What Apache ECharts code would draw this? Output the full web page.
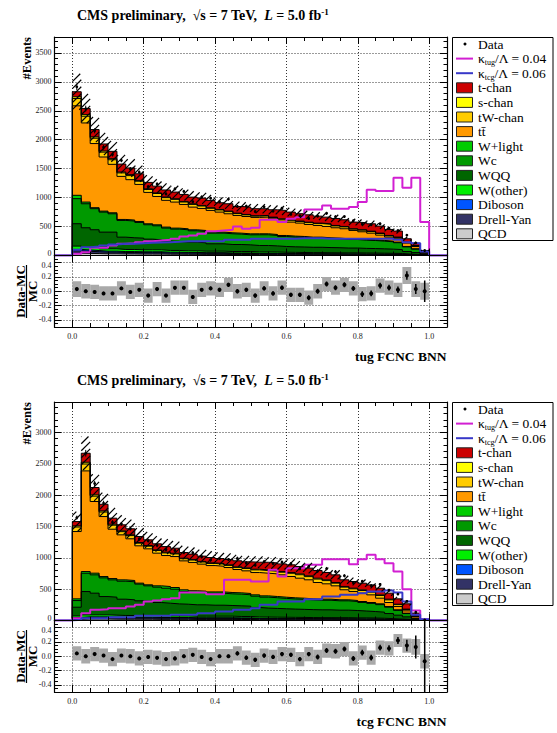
<!DOCTYPE html>
<html>
<head>
<meta charset="utf-8">
<script src="https://cdn.jsdelivr.net/npm/echarts@6.0.0/dist/echarts.min.js"></script>
<style>
  html, body { margin: 0; padding: 0; background: #fff; }
  #chart { width: 557px; height: 733px; }
</style>
</head>
<body>
<div id="chart"></div>
<script>
// 40 bins of width 0.025 on [0, 1]
var binWidth = 0.025;

// ---- top plot: tug FCNC BNN ----
var tchanA = [87,104,127,121,127,138,115,115,110,115,121,115,121,115,127,127,115,127,115,127,121,115,127,144,133,127,127,121,115,121,115,115,121,127,121,104,104,58,40,29];
var schanA = [30,28,23,20,19,15,17,14,12,12,11,11,10,11,10,9,9,9,8,7,6,6,6,8,8,7,8,8,9,8,8,6,7,7,7,6,6,3,3,2];
var twA    = [126,116,92,84,79,60,70,55,51,51,47,47,42,47,42,37,37,37,32,28,23,23,23,32,32,28,32,32,37,32,32,23,28,28,28,23,23,14,14,10];
var ttA    = [1546,1367,1108,935,837,744,698,640,542,490,462,450,421,392,381,375,346,329,306,300,283,289,271,248,242,231,219,202,196,179,173,144,133,115,92,69,58,58,40,17];
var wlA    = [58,29,17,17,17,17,17,17,17,17,17,17,17,17,17,17,17,17,17,17,17,17,17,17,17,15,15,15,14,14,13,13,12,12,12,11,10,7,5,2];
var wcA    = [433,415,364,346,317,289,289,271,248,242,225,213,213,196,196,185,185,185,179,173,185,185,180,173,168,167,160,160,155,152,147,147,142,139,133,127,119,80,59,15];
var wqqA   = [387,335,312,289,289,213,202,202,185,173,162,156,150,150,144,127,127,121,121,115,110,110,106,100,96,95,92,92,89,87,84,84,80,78,75,72,67,45,33,8];
var wothA  = [57,50,47,40,40,36,36,34,34,34,30,30,28,28,26,26,26,24,24,24,22,22,21,20,19,18,18,18,17,16,16,16,15,15,14,13,12,8,6,1];
var dibA   = [24,22,20,17,17,16,16,15,15,15,13,13,12,12,11,11,11,10,10,10,9,9,9,8,8,8,7,7,7,7,7,7,6,6,6,6,5,4,3,1];
var dyA    = [41,36,33,29,29,26,26,25,25,25,22,22,21,21,19,19,19,18,18,18,16,16,15,14,14,13,13,13,12,12,11,11,11,11,10,10,9,6,5,1];
var qcdA   = [40,36,33,29,29,26,26,24,24,24,22,22,20,20,19,19,19,17,17,17,16,16,15,14,13,13,12,12,12,12,11,11,11,10,10,9,9,6,4,1];
var tugA   = [29,58,133,133,173,202,213,231,248,260,271,288,329,346,375,421,433,444,502,461,479,617,617,577,634,663,796,796,865,808,808,837,923,1137,1114,1114,1344,1171,1344,577];
var tcgA   = [98,144,156,173,190,202,202,213,219,225,231,237,248,248,248,248,248,271,271,271,288,288,288,288,288,300,300,300,288,288,288,288,288,288,288,288,271,231,213,69];
var ratioA = [0.03,0.00,-0.01,-0.03,-0.03,0.04,-0.01,0.02,-0.06,0.03,-0.06,0.05,0.05,-0.08,0.02,0.04,0.02,0.09,0.00,0.02,-0.06,0.04,-0.03,0.05,-0.05,-0.05,-0.09,0.00,0.10,0.05,0.09,0.04,-0.04,-0.03,0.08,0.05,0.02,0.22,0.03,0.00];
var uncA   = [0.11,0.10,0.10,0.10,0.10,0.10,0.10,0.10,0.10,0.10,0.10,0.10,0.10,0.10,0.10,0.10,0.10,0.10,0.10,0.10,0.10,0.10,0.10,0.10,0.10,0.10,0.10,0.10,0.10,0.10,0.10,0.10,0.10,0.10,0.10,0.10,0.10,0.12,0.11,0.12];
var errA   = [0.02,0.02,0.02,0.02,0.02,0.02,0.02,0.02,0.025,0.025,0.025,0.025,0.025,0.025,0.025,0.025,0.03,0.03,0.03,0.03,0.03,0.03,0.03,0.03,0.03,0.03,0.035,0.035,0.035,0.035,0.035,0.035,0.04,0.04,0.04,0.04,0.045,0.06,0.07,0.15];

// ---- bottom plot: tcg FCNC BNN ----
var tchanB = [69,144,117,106,96,96,96,96,90,96,90,80,90,85,85,85,80,85,96,96,112,122,122,122,122,117,122,122,117,122,106,106,106,106,106,96,85,85,43,4];
var schanB = [18,28,21,18,16,13,13,11,11,11,11,11,9,10,9,9,9,9,9,10,11,11,11,11,13,14,13,14,13,11,11,11,11,11,11,11,7,5,2,0];
var twB    = [72,110,85,72,64,51,51,42,42,42,42,42,34,38,34,34,34,34,34,38,42,42,42,42,51,55,51,55,51,42,42,42,42,42,42,42,30,22,9,1];
var ttB    = [1074,1605,1143,957,787,718,665,595,574,521,494,494,462,452,431,420,409,399,372,361,356,361,361,356,340,319,303,266,245,223,160,144,133,122,90,64,53,37,27,2];
var wlB    = [27,27,27,21,21,21,21,16,16,21,27,27,27,27,21,21,21,21,21,21,21,20,20,19,18,18,17,17,17,16,16,16,15,14,13,11,8,6,2,0];
var wcB    = [106,292,292,298,276,287,287,266,250,245,239,234,202,197,197,191,191,186,186,181,180,175,170,166,162,160,156,153,153,149,149,144,137,130,120,101,77,53,17,2];
var wqqB   = [138,372,346,292,287,260,250,234,223,213,202,191,186,181,181,175,175,170,170,165,150,143,140,135,132,129,126,124,124,120,120,116,110,104,97,81,62,42,13,1];
var wothB  = [26,32,32,32,30,28,28,28,28,26,26,26,26,25,25,25,25,25,22,22,20,19,19,18,17,18,16,16,16,16,16,15,15,13,13,10,8,6,2,1];
var dibB   = [11,13,13,13,13,12,12,12,12,11,11,11,11,10,10,10,10,10,10,10,9,8,8,8,8,7,7,7,7,7,7,6,6,6,5,5,3,2,1,0];
var dyB    = [19,22,22,22,21,20,20,20,20,19,19,19,19,17,17,17,17,17,16,16,15,14,13,13,13,12,12,12,12,11,11,11,10,10,9,8,6,4,1,0];
var qcdB   = [18,23,23,23,21,20,20,20,20,18,18,18,18,17,17,17,17,17,16,16,14,14,13,13,12,12,12,11,11,11,11,11,10,10,9,7,6,4,1,0];
var tugB   = [37,117,170,181,197,197,223,250,303,319,340,356,447,447,447,420,420,649,649,649,622,622,808,702,835,835,888,888,978,978,978,899,978,1047,978,914,781,500,159,21];
var tcgB   = [11,37,37,37,53,53,53,74,74,74,74,90,90,90,117,117,144,144,170,170,197,250,250,303,303,303,340,340,383,383,409,409,436,462,462,478,447,303,90,21];
var ratioB = [0.04,0.00,0.03,0.01,-0.04,0.01,0.00,-0.03,-0.01,-0.02,-0.04,-0.03,0.00,0.02,-0.01,-0.04,0.00,0.00,0.04,-0.02,-0.05,0.01,-0.01,0.03,0.02,-0.04,0.03,-0.01,0.08,0.07,0.10,-0.03,0.05,-0.02,0.12,0.11,0.22,0.15,0.13,-0.07];
var uncB   = [0.10,0.10,0.10,0.10,0.10,0.10,0.10,0.10,0.10,0.10,0.10,0.10,0.10,0.10,0.10,0.10,0.10,0.10,0.10,0.10,0.10,0.10,0.10,0.10,0.10,0.10,0.10,0.10,0.10,0.10,0.10,0.10,0.10,0.10,0.10,0.10,0.09,0.10,0.11,0.10];
var errB   = [0.02,0.02,0.02,0.02,0.02,0.02,0.02,0.02,0.025,0.025,0.025,0.025,0.025,0.025,0.025,0.025,0.025,0.025,0.03,0.03,0.03,0.03,0.03,0.03,0.03,0.03,0.03,0.035,0.035,0.035,0.035,0.035,0.04,0.04,0.04,0.045,0.05,0.08,0.16,0.6];

// stack order, bottom to top
var compNames  = ['QCD','Drell-Yan','Diboson','W(other)','WQQ','Wc','W+light','t\u0074\u0304','tW-chan','s-chan','t-chan'];
var compColors = ['#cccccc','#333366','#0055ff','#00ee00','#006600','#009900','#00cc00','#ff9900','#ffcc00','#ffff00','#cc0000'];
var tugColor = '#d21fd2', tcgColor = '#3838c8';

var FONT = "'Liberation Serif','DejaVu Serif',serif";

var panels = [
  {comps:[qcdA,dyA,dibA,wothA,wqqA,wcA,wlA,ttA,twA,schanA,tchanA], tug:tugA, tcg:tcgA,
   ratio:ratioA, unc:uncA, err:errA, ymax:3775, xtitle:'tug FCNC BNN', dy:0},
  {comps:[qcdB,dyB,dibB,wothB,wqqB,wcB,wlB,ttB,twB,schanB,tchanB], tug:tugB, tcg:tcgB,
   ratio:ratioB, unc:uncB, err:errB, ymax:3485, xtitle:'tcg FCNC BNN', dy:365}
];

var grids = [], xAxes = [], yAxes = [], series = [], graphics = [];
var DOT = {type:[1,2], color:'#000', width:0.8};
var LBL = {fontFamily:FONT, fontSize:8, lineHeight:8, color:'#222'};
var TICK = {color:'#000', width:1};
// the "0" of the main axis and the "0.4" of the ratio axis sit close: nudge them apart
var NUDGE = {up:{fontFamily:FONT, fontSize:8, lineHeight:8, padding:[0,0,5,0]},
             down:{fontFamily:FONT, fontSize:8, lineHeight:8, padding:[5,0,0,0]}};

function addGrid(top, height, ymin, ymax, yInterval, yMinor, isRatio) {
  var gi = grids.length;
  grids.push({left:54.5, top:top, width:392.5, height:height, show:false, outerBoundsMode:'none'});
  var xb = xAxes.length, yb = yAxes.length;
  var xc = {type:'value', gridIndex:gi, min:-0.05, max:1.05, splitNumber:5};
  xAxes.push(Object.assign({}, xc, {position:'bottom', z:0, axisLine:{show:false}, axisTick:{show:false},
    axisLabel:{show:false}, splitLine:{show:true, lineStyle:DOT}}));
  xAxes.push(Object.assign({}, xc, {position:'bottom', z:10,
    axisLine:{show:true, onZero:false, lineStyle:{color:'#000', width:1.2}},
    axisTick:{show:true, inside:true, length:7, lineStyle:TICK},
    axisLabel: isRatio ? Object.assign({show:true, margin:5, showMinLabel:false, showMaxLabel:false,
      formatter:function (v) { return v.toFixed(1); }}, LBL) : {show:false},
    splitLine:{show:false}}));
  xAxes.push(Object.assign({}, xc, {position:'top', z:10,
    axisLine:{show:true, onZero:false, lineStyle:{color:'#000', width:1.2}},
    axisTick:{show:true, inside:true, length:7, lineStyle:TICK}, axisLabel:{show:false}, splitLine:{show:false}}));
  ['bottom','top'].forEach(function (pos) {
    xAxes.push(Object.assign({}, xc, {interval:0.05, position:pos, z:10, axisLine:{show:false, onZero:false},
      axisTick:{show:true, inside:true, length:4, lineStyle:TICK}, axisLabel:{show:false}, splitLine:{show:false}}));
  });
  var yc = {type:'value', gridIndex:gi, min:ymin, max:ymax};
  if (yInterval) yc.interval = yInterval; else yc.splitNumber = 5;
  yAxes.push(Object.assign({}, yc, {position:'left', z:0, axisLine:{show:false}, axisTick:{show:false},
    axisLabel:{show:false}, splitLine:{show:true, lineStyle:DOT}}));
  yAxes.push(Object.assign({}, yc, {position:'left', z:10,
    axisLine:{show:true, onZero:false, lineStyle:{color:'#000', width:1.2}},
    axisTick:{show:true, inside:true, length:7, lineStyle:TICK},
    minorTick:{show:true, splitNumber:yMinor, length:3.5, lineStyle:TICK},
    axisLabel:Object.assign({show:true, margin:3, showMinLabel:!isRatio, showMaxLabel:false, rich:NUDGE,
      formatter:function (v) {
        if (isRatio) return Math.abs(v - 0.4) < 1e-6 ? '{down|0.4}' : v.toFixed(1);
        return v === 0 ? '{up|0}' : String(v);
      }}, LBL),
    splitLine:{show:false}}));
  yAxes.push(Object.assign({}, yc, {position:'right', z:10,
    axisLine:{show:true, onZero:false, lineStyle:{color:'#000', width:1.2}},
    axisTick:{show:true, inside:true, length:7, lineStyle:TICK},
    minorTick:{show:true, splitNumber:yMinor, length:3.5, lineStyle:TICK},
    axisLabel:{show:false}, splitLine:{show:false}}));
  return {x:xb, y:yb};
}

function hatchItem(params, api) {
  var a = api.coord([api.value(0) - binWidth / 2, api.value(2)]);
  var b = api.coord([api.value(0) + binWidth / 2, api.value(1)]);
  var x0 = a[0], y0 = a[1], x1 = b[0], y1 = b[1], s = 7, kids = [];
  for (var c = Math.ceil((x0 + y0) / s) * s; c <= x1 + y1; c += s) {
    var xa = Math.max(x0, c - y1), xb = Math.min(x1, c - y0);
    if (xb > xa) kids.push({type:'line', shape:{x1:xa, y1:c - xa, x2:xb, y2:c - xb},
      style:{stroke:'#000', lineWidth:1.2}});
  }
  return {type:'group', children:kids};
}
function boxItem(params, api) {
  var a = api.coord([api.value(0) - binWidth / 2, api.value(2)]);
  var b = api.coord([api.value(0) + binWidth / 2, api.value(3)]);
  return {type:'rect', shape:{x:a[0], y:b[1], width:b[0] - a[0], height:a[1] - b[1]}, style:{fill:'#a9a9a9'}};
}
function pointItem(rad, lw) {
  return function (params, api) {
    var c = api.coord([api.value(0), api.value(1)]);
    var lo = api.coord([api.value(0), api.value(2)]);
    var hi = api.coord([api.value(0), api.value(3)]);
    return {type:'group', children:[
      {type:'line', shape:{x1:c[0], y1:lo[1], x2:c[0], y2:hi[1]}, style:{stroke:'#000', lineWidth:lw}},
      {type:'circle', shape:{cx:c[0], cy:c[1], r:rad}, style:{fill:'#000'}}
    ]};
  };
}

var legendEntries = [
  {kind:'dot', text:'Data'},
  {kind:'line', color:tugColor, text:'{n|\u03ba}{s|tug}{n|/\u039b = 0.04}'},
  {kind:'line', color:tcgColor, text:'{n|\u03ba}{s|tcg}{n|/\u039b = 0.06}'}
];
for (var j = compNames.length - 1; j >= 0; j--) legendEntries.push({kind:'box', color:compColors[j], text:compNames[j]});
var RICH = {n:{fontFamily:FONT, fontSize:13.5, lineHeight:16}, s:{fontFamily:FONT, fontSize:8, lineHeight:8, verticalAlign:'bottom'}};

panels.forEach(function (p, pi) {
  var dy = p.dy;
  var m = addGrid(37 + dy, 218.5, 0, p.ymax, 500, 5, false);
  var r = addGrid(255.5 + dy, 71.5, -0.5, 0.5, null, 4, true);
  var n = p.comps[0].length, i;
  // cumulative stack tops
  var cum = [], run = [];
  for (i = 0; i < n; i++) run.push(0);
  p.comps.forEach(function (arr) {
    run = run.map(function (v, k) { return v + arr[k]; });
    cum.push(run.slice());
  });
  var total = cum[cum.length - 1];
  for (var jj = cum.length - 1; jj >= 0; jj--) {
    var pts = [[0, 0]];
    for (i = 0; i < n; i++) pts.push([i * binWidth, cum[jj][i]]);
    pts.push([n * binWidth, 0]);
    series.push({type:'line', xAxisIndex:m.x, yAxisIndex:m.y, data:pts, step:'end', symbol:'none',
      lineStyle:{color:'#000', width:1}, areaStyle:{color:compColors[jj], opacity:1}, z:2, silent:true});
  }
  [[p.tug, tugColor], [p.tcg, tcgColor]].forEach(function (sg) {
    var pts = [[-0.05, 0]];
    for (i = 0; i < n; i++) pts.push([i * binWidth, sg[0][i]]);
    pts.push([n * binWidth, 0], [1.05, 0]);
    series.push({type:'line', xAxisIndex:m.x, yAxisIndex:m.y, data:pts, step:'end', symbol:'none',
      lineStyle:{color:sg[1], width:2}, z:3, silent:true});
  });
  var hatch = [], dataPts = [], boxes = [], rpts = [];
  for (i = 0; i < n; i++) {
    var xc = (i + 0.5) * binWidth, T = total[i];
    hatch.push([xc, T * (1 - p.unc[i]), T * (1 + p.unc[i])]);
    var d = T * (1 + p.ratio[i]), e = T * p.err[i];
    dataPts.push([xc, d, d - e, d + e]);
    boxes.push([xc, p.ratio[i], p.ratio[i] - p.unc[i], p.ratio[i] + p.unc[i]]);
    rpts.push([xc, p.ratio[i], p.ratio[i] - p.err[i], p.ratio[i] + p.err[i]]);
  }
  series.push({type:'custom', xAxisIndex:m.x, yAxisIndex:m.y, data:hatch, renderItem:hatchItem,
    encode:{x:0, y:[1, 2]}, z:4, silent:true, clip:true});
  series.push({type:'custom', xAxisIndex:m.x, yAxisIndex:m.y, data:dataPts, renderItem:pointItem(1.4, 1),
    encode:{x:0, y:[1, 2, 3]}, z:5, silent:true, clip:true});
  series.push({type:'custom', xAxisIndex:r.x, yAxisIndex:r.y, data:boxes, renderItem:boxItem,
    encode:{x:0, y:[1, 2, 3]}, z:2, silent:true, clip:true});
  series.push({type:'custom', xAxisIndex:r.x, yAxisIndex:r.y, data:rpts, renderItem:pointItem(2, 1.5),
    encode:{x:0, y:[1, 2, 3]}, z:3, silent:true, clip:true});

  // texts
  graphics.push({type:'text', x:77, y:15 + dy, style:{
    text:'{b|CMS preliminary,  \u221as = 7 TeV,  }{bi|L}{b| = 5.0 fb}{sup|-1}',
    verticalAlign:'middle', align:'left',
    rich:{b:{fontFamily:FONT, fontWeight:'bold', fontSize:14, lineHeight:16},
          bi:{fontFamily:FONT, fontWeight:'bold', fontStyle:'italic', fontSize:14, lineHeight:16},
          sup:{fontFamily:FONT, fontWeight:'bold', fontSize:9, lineHeight:8, verticalAlign:'top'}}}});
  graphics.push({type:'text', x:27, y:37 + dy, rotation:Math.PI / 2, style:{text:'#Events',
    fontFamily:FONT, fontWeight:'bold', fontSize:12.5, align:'right', verticalAlign:'middle', fill:'#000'}});
  graphics.push({type:'text', x:20.5, y:291.5 + dy, rotation:Math.PI / 2, style:{text:'Data-MC',
    fontFamily:FONT, fontWeight:'bold', fontSize:13, align:'center', verticalAlign:'middle', fill:'#000'}});
  graphics.push({type:'text', x:32.5, y:291.5 + dy, rotation:Math.PI / 2, style:{text:'MC',
    fontFamily:FONT, fontWeight:'bold', fontSize:13, align:'center', verticalAlign:'middle', fill:'#000'}});
  graphics.push({type:'line', shape:{x1:26.5, y1:265 + dy, x2:26.5, y2:318 + dy}, style:{stroke:'#000', lineWidth:1.2}});
  graphics.push({type:'text', x:446.5, y:356 + dy, style:{text:p.xtitle,
    fontFamily:FONT, fontWeight:'bold', fontSize:13.5, align:'right', verticalAlign:'middle', fill:'#000'}});

  // legend
  graphics.push({type:'rect', shape:{x:452.5, y:37.5 + dy, width:100.5, height:203},
    style:{fill:'#fff', stroke:'#000', lineWidth:1}});
  legendEntries.forEach(function (le, k) {
    var y = 44 + 14.6 * k + dy;
    if (le.kind === 'dot') graphics.push({type:'circle', shape:{cx:465, cy:y, r:1.5}, style:{fill:'#000'}});
    else if (le.kind === 'line') graphics.push({type:'line', shape:{x1:456, y1:y, x2:473, y2:y}, style:{stroke:le.color, lineWidth:2}});
    else graphics.push({type:'rect', shape:{x:456.5, y:y - 5, width:16, height:10}, style:{fill:le.color, stroke:'#222', lineWidth:1}});
    graphics.push({type:'text', x:478, y:y, style:{text:le.text, rich:RICH, fontFamily:FONT, fontSize:13.5,
      verticalAlign:'middle', align:'left', fill:'#000'}});
  });
});

var chart = echarts.init(document.getElementById('chart'), null, {renderer:'svg', width:557, height:733});
chart.setOption({
  animation:false,
  backgroundColor:'#fff',
  grid:grids,
  xAxis:xAxes,
  yAxis:yAxes,
  series:series,
  graphic:graphics
});
</script>
</body>
</html>
